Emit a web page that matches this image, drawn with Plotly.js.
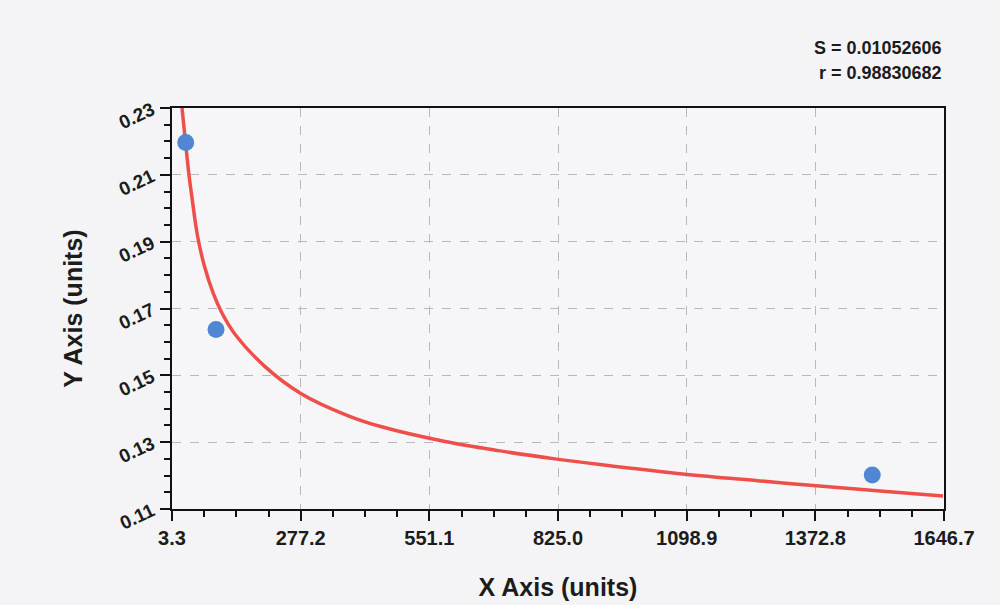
<!DOCTYPE html>
<html>
<head>
<meta charset="utf-8">
<script src="https://cdn.plot.ly/plotly-3.0.1.min.js"></script>
<style>html,body{margin:0;padding:0;background:#f4f4f6;}#chart{width:1000px;height:605px;}</style>
</head>
<body>
<div id="chart"></div>
<script>
// Measured standard points
var pointX = [32.5, 97.0, 1494.0];
var pointY = [0.2197, 0.1637, 0.1202];

// Fitted curve
var curveX = [24.6, 32.0, 39.5, 46.5, 53.8, 59.3, 72.1, 91.2, 109.1, 137.4, 201.3, 277.3, 378.6, 449.7, 584.5, 701.5, 818.6, 914.4, 1095.4, 1255.0, 1368.1, 1510.5, 1644.6];
var curveY = [0.2300, 0.2198, 0.2099, 0.2025, 0.1950, 0.1905, 0.1828, 0.1745, 0.1688, 0.1623, 0.1526, 0.1446, 0.1379, 0.1346, 0.1302, 0.1274, 0.1250, 0.1233, 0.1204, 0.1184, 0.1170, 0.1154, 0.1139];

// Axis ticks
var xTickVals = [3.3, 277.2, 551.1, 825.0, 1098.9, 1372.8, 1646.7];
var xTickText = ["3.3", "277.2", "551.1", "825.0", "1098.9", "1372.8", "1646.7"];
var yTickVals = [0.11, 0.13, 0.15, 0.17, 0.19, 0.21, 0.23];
var yTickText = ["0.11", "0.13", "0.15", "0.17", "0.19", "0.21", "0.23"];

var statS = "S = 0.01052606";
var statR = "r = 0.98830682";

var font = "Liberation Sans, Arial, sans-serif";
var ink = "#1c1c1c";

var traces = [
  {
    x: curveX, y: curveY, type: "scatter", mode: "lines",
    line: {color: "#ee4f4a", width: 3.5, shape: "spline", smoothing: 1},
    hoverinfo: "skip", showlegend: false
  },
  {
    x: pointX, y: pointY, type: "scatter", mode: "markers",
    marker: {color: "#4f87d2", size: 17, line: {width: 0}},
    showlegend: false
  }
];

var layout = {
  width: 1000, height: 605,
  paper_bgcolor: "#f4f4f6",
  plot_bgcolor: "#f6f6f8",
  margin: {l: 172, r: 56, t: 108, b: 96},
  font: {family: font, color: ink},
  xaxis: {
    range: [3.3, 1646.7],
    tickmode: "array", tickvals: xTickVals, ticktext: xTickText,
    ticks: "outside", ticklen: 10, tickwidth: 2, tickcolor: "#111",
    minor: {dtick: 68.475, tick0: 3.3, ticks: "outside", ticklen: 6, tickwidth: 2, tickcolor: "#111", showgrid: false},
    showline: true, linecolor: "#111", linewidth: 2, mirror: true,
    showgrid: true, gridcolor: "#b9b9bd", griddash: "dash", gridwidth: 1,
    zeroline: false,
    tickfont: {family: font, size: 20, color: ink, weight: "bold"},
    title: {text: "<b>X Axis (units)</b>", font: {family: font, size: 25, color: ink}, standoff: 30}
  },
  yaxis: {
    range: [0.11, 0.23],
    tickmode: "array", tickvals: yTickVals, ticktext: yTickText,
    ticks: "outside", ticklen: 10, tickwidth: 2, tickcolor: "#111",
    minor: {dtick: 0.005, tick0: 0.11, ticks: "outside", ticklen: 6, tickwidth: 2, tickcolor: "#111", showgrid: false},
    showline: true, linecolor: "#111", linewidth: 2, mirror: true,
    showgrid: true, gridcolor: "#b9b9bd", griddash: "dash", gridwidth: 1,
    zeroline: false,
    tickangle: -25,
    ticklabelstandoff: 4,
    tickfont: {family: font, size: 19, color: ink, weight: "bold"},
    title: {text: "<b>Y Axis (units)</b>", font: {family: font, size: 25, color: ink}, standoff: 26}
  },
  annotations: [
    {text: "<b>" + statS + "</b>", xref: "paper", yref: "paper", x: 1, y: (509 - 48) / 401,
     xanchor: "right", yanchor: "middle", showarrow: false, font: {family: font, size: 18, color: ink}},
    {text: "<b>" + statR + "</b>", xref: "paper", yref: "paper", x: 1, y: (509 - 73) / 401,
     xanchor: "right", yanchor: "middle", showarrow: false, font: {family: font, size: 18, color: ink}}
  ]
};

Plotly.newPlot("chart", traces, layout, {displayModeBar: false, staticPlot: true});
</script>
</body>
</html>
